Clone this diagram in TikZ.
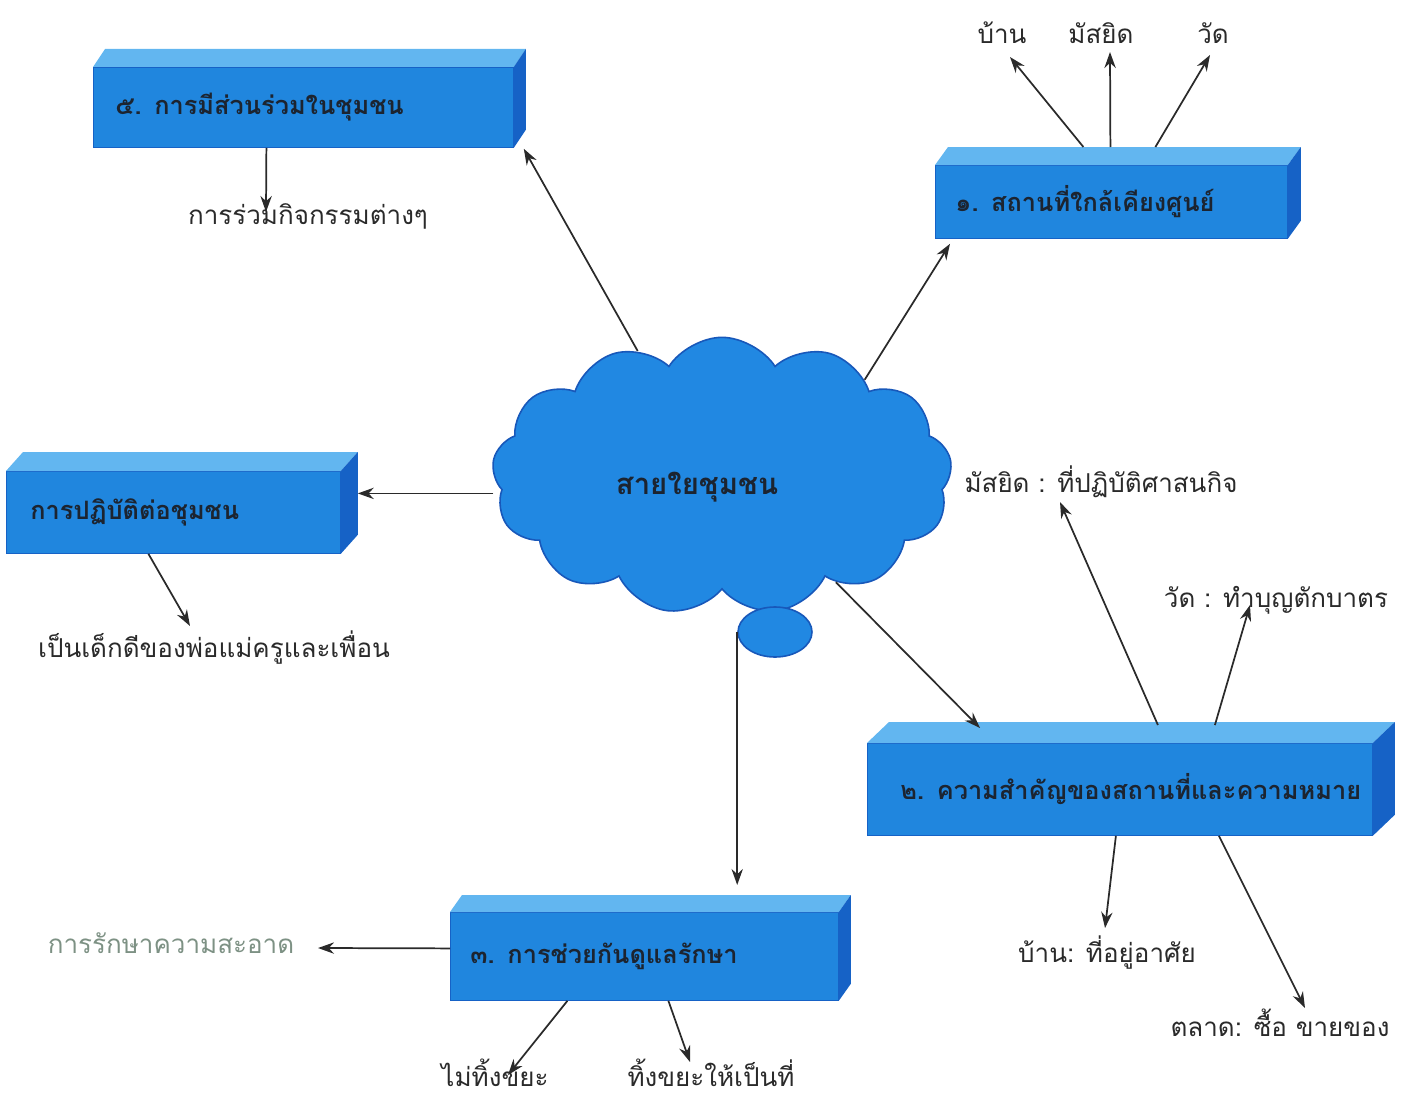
\documentclass[tikz,border=0pt]{standalone}
\usepackage{fontspec}
\newfontfamily\thaifont[Script=Thai]{Loma}
\usetikzlibrary{shapes.symbols,shapes.geometric,arrows.meta}

\definecolor{barfront}{RGB}{32,134,222}
\definecolor{bartop}{RGB}{98,182,240}
\definecolor{barside}{RGB}{22,98,198}
\definecolor{cloudfill}{RGB}{33,136,226}
\definecolor{cloudline}{RGB}{24,88,186}
\definecolor{inkgray}{RGB}{42,42,42}
\definecolor{fadegray}{RGB}{125,145,132}
\definecolor{bartext}{RGB}{28,36,48}

\tikzset{every picture/.style={line width=0.75pt}}
\tikzset{
  barbox/.style={fill=barfront, draw=barside, line width=0.6pt, anchor=north west, inner ysep=0pt, align=left, text=bartext, font=\thaifont\bfseries\fontsize{19}{22}\selectfont},
  lbl/.style={inner sep=0.75pt, text=inkgray, font=\thaifont\fontsize{19.5}{22}\selectfont},
  arr/.style={draw=inkgray, line width=1.3pt, -{Stealth[length=12pt,width=8.5pt]}},
}
% top and right faces of a bar: node, depth x, depth y
\newcommand{\barfaces}[3]{%
  \fill[bartop] (#1.north west) -- ++(#2,#3) -- ([shift={(#2,#3)}]#1.north east) -- (#1.north east) -- cycle;
  \fill[barside] (#1.north east) -- ++(#2,#3) -- ([shift={(#2,#3)}]#1.south east) -- (#1.south east) -- cycle;
}

\begin{document}
\begin{tikzpicture}[x=0.75pt,y=0.75pt,yscale=-1,xscale=1]
        \useasboundingbox (0,0) rectangle (1402,1099);

        %Shape: Bars
        \node[barbox, minimum height=60pt, inner xsep=16.5pt, text width=282pt] (b5) at (93,67) {\mbox{๕. การมีส่วนร่วมในชุมชน}};
        \barfaces{b5}{12}{-18}
        \node[barbox, minimum height=54.75pt, inner xsep=15pt, text width=234pt] (b1) at (935,165) {\mbox{๑. สถานที่ใกล้เคียงศูนย์}};
        \barfaces{b1}{13}{-18}
        \node[barbox, minimum height=61.5pt, inner xsep=18pt, text width=214.5pt] (b4) at (6,471) {\mbox{การปฏิบัติต่อชุมชน}};
        \barfaces{b4}{17}{-19}
        \node[barbox, minimum height=69pt, inner xsep=24.75pt, text width=329.25pt] (b2) at (867,743) {\mbox{๒. ความสำคัญของสถานที่และความหมาย}};
        \barfaces{b2}{22}{-21}
        \node[barbox, minimum height=66pt, inner xsep=15pt, text width=261pt] (b3) at (450,912) {\mbox{๓. การช่วยกันดูแลรักษา}};
        \barfaces{b3}{12}{-17}

        %Shape: Cloud
        \node[cloud, cloud puffs=13, cloud puff arc=115, cloud ignores aspect, minimum width=345pt, minimum height=208pt, fill=cloudfill, draw=cloudline, line width=1.2pt] (cl) at (722,476) {};
        \node[ellipse, minimum width=55.5pt, minimum height=37.5pt, fill=cloudfill, draw=cloudline, line width=1.2pt] (bub) at (775,632) {};
        \node[text=bartext, font=\thaifont\bfseries\fontsize{22}{26}\selectfont] (ct) at (697,487) {สายใยชุมชน};

        % Text Node
        \node[lbl] (l5) at (308,216) {การร่วมกิจกรรมต่างๆ};
        \node[lbl] (l1a) at (1002,33) {บ้าน};
        \node[lbl] (l1b) at (1101,33) {มัสยิด};
        \node[lbl] (l1c) at (1213,33) {วัด};
        \node[lbl] (l4) at (214,648) {เป็นเด็กดีของพ่อแม่ครูและเพื่อน};
        \node[lbl] (l2a) at (1101,482) {มัสยิด : ที่ปฏิบัติศาสนกิจ};
        \node[lbl] (l2b) at (1276,600) {วัด : ทำบุญตักบาตร};
        \node[lbl] (l2c) at (1107,953) {บ้าน: ที่อยู่อาศัย};
        \node[lbl] (l2d) at (1280,1023) {ตลาด: ซื้อ ขายของ};
        \node[lbl, text=fadegray] (l3a) at (171,943) {การรักษาความสะอาด};
        \node[lbl] (l3b) at (495,1073) {ไม่ทิ้งขยะ};
        \node[lbl] (l3c) at (711,1073) {ทิ้งขยะให้เป็นที่};

        %Straight Lines: cloud to bars
        \coordinate (t4) at ([shift={(17,-19)}]b4.east);
        \path (bub.west |- b3.north) ++(0,-27) coordinate (t3);
        \draw[arr] (cl.124) -- ([shift={(10,1)}]b5.south east);
        \draw[arr] (cl.34) -- ([shift={(15,5)}]b1.south west);
        \draw[arr] (cl.west |- t4) -- (t4);
        \draw[arr] (bub.west) -- (t3);
        \draw[arr] (cl.-43) -- ([shift={(113,-15)}]b2.north west);

        %Straight Lines: bars to texts
        \draw[arr] ([shift={(-37,0)}]b5.south) -- ([shift={(-42,-4)}]l5.center);
        \draw[arr] ([shift={(-28,-18)}]b1.north) -- ([shift={(8,24)}]l1a.center);
        \draw[arr] ([shift={(-1,-18)}]b1.north) -- ([shift={(9,19)}]l1b.center);
        \draw[arr] ([shift={(44,-18)}]b1.north) -- ([shift={(-3,22)}]l1c.center);
        \draw[arr] ([shift={(-25,0)}]b4.south) -- ([shift={(-24,-22)}]l4.center);
        \draw[arr] ([shift={(38,-18)}]b2.north) -- ([shift={(-41,20)}]l2a.center);
        \draw[arr] ([shift={(95,-18)}]b2.north) -- ([shift={(-26,5)}]l2b.center);
        \draw[arr] ([shift={(-4,0)}]b2.south) -- ([shift={(-2,-25)}]l2c.center);
        \draw[arr] ([shift={(99,0)}]b2.south) -- ([shift={(25,-15)}]l2d.center);
        \draw[arr] ([shift={(0,-8)}]b3.west) -- ([shift={(147,5)}]l3a.center);
        \draw[arr] ([shift={(-77,0)}]b3.south) -- ([shift={(13,2)}]l3b.center);
        \draw[arr] ([shift={(24,0)}]b3.south) -- ([shift={(-21,-11)}]l3c.center);

    \end{tikzpicture}
\end{document}
